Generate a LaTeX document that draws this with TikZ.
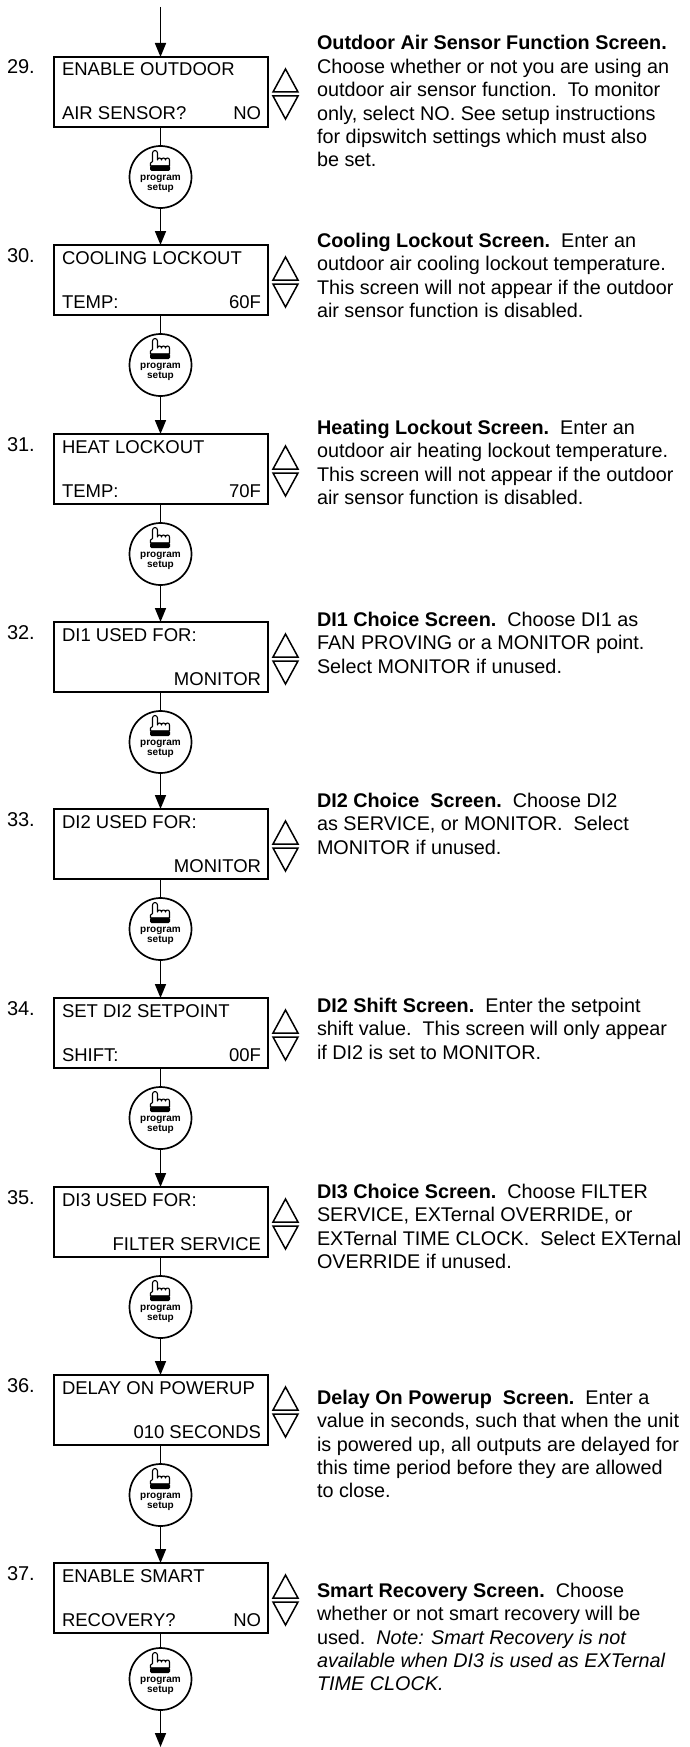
\documentclass[tikz,border=0pt]{standalone}
\usepackage{fontspec}
\setmainfont{Liberation Sans}
\usetikzlibrary{calc, arrows.meta, positioning}

\tikzset{
    % up / down keys beside each screen
    updown/.pic={
        \draw[line width=1.5pt, line join=miter] (0,-25) -- (-12.5,-2) -- (12.5,-2) -- cycle;
        \draw[line width=1.5pt, line join=miter] (0,25) -- (-12.5,2) -- (12.5,2) -- cycle;
    },
    % pointing hand on the program/setup key
    pointer/.pic={
        \draw[line width=1.1pt, fill=white, line join=round]
            (-10,-11) -- (-10,-14) -- (-8,-15.5) -- (-8,-24)
            arc[start angle=180, end angle=360, radius=2.5] -- (-3,-17)
            arc[start angle=180, end angle=360, radius=2]
            arc[start angle=180, end angle=360, radius=2]
            arc[start angle=180, end angle=360, radius=2] -- (9,-11) -- cycle;
        \fill[rounded corners=1.5pt] (-10.5,-11.5) rectangle (9.5,-6);
    },
}

\begin{document}
\begin{tikzpicture}[%
    x=1pt, y=-1pt,          % pixel grid, y going down
    >={Triangle[width=11pt, length=14pt]},
    line width=1.7pt,
    every node/.style={inner sep=0pt, outer sep=0pt},
    screen/.style={draw, rectangle, line width=2pt, minimum width=214pt, minimum height=70pt, anchor=north},
    button/.style={draw, circle, line width=1.7pt, minimum size=62pt},
    scrtext/.style={font=\fontsize{18.5}{22}\selectfont},
    stepnum/.style={font=\fontsize{20}{24}\selectfont, anchor=base west},
    btntext/.style={font=\bfseries\fontsize{10}{10.5}\selectfont, align=center},
    desc/.style={anchor=north west, align=left, font=\fontsize{19.8}{23.4}\selectfont},
    ]

\useasboundingbox (0,0) rectangle (689,1747);

%==================================================
% Coordinates (top middle of each screen)
%==================================================
\coordinate (C29) at (160.5,57);
\coordinate (C30) at (160.5,245);
\coordinate (C31) at (160.5,434);
\coordinate (C32) at (160.5,622);
\coordinate (C33) at (160.5,809);
\coordinate (C34) at (160.5,998);
\coordinate (C35) at (160.5,1187);
\coordinate (C36) at (160.5,1375);
\coordinate (C37) at (160.5,1563);

\coordinate (start)  at (160.5,7);
\coordinate (finish) at (160.5,1747);

%==================================================
% Screens
%==================================================
\node[screen] (s29) at (C29) {};
\node[screen] (s30) at (C30) {};
\node[screen] (s31) at (C31) {};
\node[screen] (s32) at (C32) {};
\node[screen] (s33) at (C33) {};
\node[screen] (s34) at (C34) {};
\node[screen] (s35) at (C35) {};
\node[screen] (s36) at (C36) {};
\node[screen] (s37) at (C37) {};

% step numbers
\node[stepnum] (n29) at ($(C29)+(-153.5,17)$) {29.};
\node[stepnum] (n30) at ($(C30)+(-153.5,17)$) {30.};
\node[stepnum] (n31) at ($(C31)+(-153.5,17)$) {31.};
\node[stepnum] (n32) at ($(C32)+(-153.5,17)$) {32.};
\node[stepnum] (n33) at ($(C33)+(-153.5,17)$) {33.};
\node[stepnum] (n34) at ($(C34)+(-153.5,17)$) {34.};
\node[stepnum] (n35) at ($(C35)+(-153.5,17)$) {35.};
\node[stepnum] (n36) at ($(C36)+(-153.5,17)$) {36.};
\node[stepnum] (n37) at ($(C37)+(-153.5,17)$) {37.};

% screen text
\node[scrtext, anchor=base west] (s29a) at ($(C29)+(-98.5,19)$) {ENABLE OUTDOOR};
\node[scrtext, anchor=base west] (s29b) at ($(C29)+(-98.5,63)$) {AIR SENSOR?};
\node[scrtext, anchor=base east] (s29c) at ($(C29)+(100.5,63)$) {NO};

\node[scrtext, anchor=base west] (s30a) at ($(C30)+(-98.5,19)$) {COOLING LOCKOUT};
\node[scrtext, anchor=base west] (s30b) at ($(C30)+(-98.5,63)$) {TEMP:};
\node[scrtext, anchor=base east] (s30c) at ($(C30)+(100.5,63)$) {60F};

\node[scrtext, anchor=base west] (s31a) at ($(C31)+(-98.5,19)$) {HEAT LOCKOUT};
\node[scrtext, anchor=base west] (s31b) at ($(C31)+(-98.5,63)$) {TEMP:};
\node[scrtext, anchor=base east] (s31c) at ($(C31)+(100.5,63)$) {70F};

\node[scrtext, anchor=base west] (s32a) at ($(C32)+(-98.5,19)$) {DI1 USED FOR:};
\node[scrtext, anchor=base east] (s32c) at ($(C32)+(100.5,63)$) {MONITOR};

\node[scrtext, anchor=base west] (s33a) at ($(C33)+(-98.5,19)$) {DI2 USED FOR:};
\node[scrtext, anchor=base east] (s33c) at ($(C33)+(100.5,63)$) {MONITOR};

\node[scrtext, anchor=base west] (s34a) at ($(C34)+(-98.5,19)$) {SET DI2 SETPOINT};
\node[scrtext, anchor=base west] (s34b) at ($(C34)+(-98.5,63)$) {SHIFT:};
\node[scrtext, anchor=base east] (s34c) at ($(C34)+(100.5,63)$) {00F};

\node[scrtext, anchor=base west] (s35a) at ($(C35)+(-98.5,19)$) {DI3 USED FOR:};
\node[scrtext, anchor=base east] (s35c) at ($(C35)+(100.5,63)$) {FILTER SERVICE};

\node[scrtext, anchor=base west] (s36a) at ($(C36)+(-98.5,19)$) {DELAY ON POWERUP};
\node[scrtext, anchor=base east] (s36c) at ($(C36)+(100.5,63)$) {010 SECONDS};

\node[scrtext, anchor=base west] (s37a) at ($(C37)+(-98.5,19)$) {ENABLE SMART};
\node[scrtext, anchor=base west] (s37b) at ($(C37)+(-98.5,63)$) {RECOVERY?};
\node[scrtext, anchor=base east] (s37c) at ($(C37)+(100.5,63)$) {NO};

% up/down keys
\pic at ($(C29)+(125,37)$) {updown};
\pic at ($(C30)+(125,37)$) {updown};
\pic at ($(C31)+(125,37)$) {updown};
\pic at ($(C32)+(125,37)$) {updown};
\pic at ($(C33)+(125,37)$) {updown};
\pic at ($(C34)+(125,37)$) {updown};
\pic at ($(C35)+(125,37)$) {updown};
\pic at ($(C36)+(125,37)$) {updown};
\pic at ($(C37)+(125,37)$) {updown};

%==================================================
% Program/setup keys
%==================================================
\node[button] (b29) at ($(s29.south)+(0,50)$) {};
\node[button] (b30) at ($(s30.south)+(0,50)$) {};
\node[button] (b31) at ($(s31.south)+(0,50)$) {};
\node[button] (b32) at ($(s32.south)+(0,50)$) {};
\node[button] (b33) at ($(s33.south)+(0,50)$) {};
\node[button] (b34) at ($(s34.south)+(0,50)$) {};
\node[button] (b35) at ($(s35.south)+(0,50)$) {};
\node[button] (b36) at ($(s36.south)+(0,50)$) {};
\node[button] (b37) at ($(s37.south)+(0,46)$) {};

\pic at (b29) {pointer}; \node[btntext] (k29) at ($(b29)+(0,7)$) {program\\setup};
\pic at (b30) {pointer}; \node[btntext] (k30) at ($(b30)+(0,7)$) {program\\setup};
\pic at (b31) {pointer}; \node[btntext] (k31) at ($(b31)+(0,7)$) {program\\setup};
\pic at (b32) {pointer}; \node[btntext] (k32) at ($(b32)+(0,7)$) {program\\setup};
\pic at (b33) {pointer}; \node[btntext] (k33) at ($(b33)+(0,7)$) {program\\setup};
\pic at (b34) {pointer}; \node[btntext] (k34) at ($(b34)+(0,7)$) {program\\setup};
\pic at (b35) {pointer}; \node[btntext] (k35) at ($(b35)+(0,7)$) {program\\setup};
\pic at (b36) {pointer}; \node[btntext] (k36) at ($(b36)+(0,7)$) {program\\setup};
\pic at (b37) {pointer}; \node[btntext] (k37) at ($(b37)+(0,7)$) {program\\setup};

%==================================================
% Descriptions
%==================================================
\node[desc] (d29) at (317,35.5) {\textbf{Outdoor Air Sensor Function Screen.}\\
    Choose whether or not you are using an\\
    outdoor air sensor function.\ \ To monitor\\
    only, select NO. See setup instructions\\
    for dipswitch settings which must also\\
    be set.};
\node[desc] (d30) at (317,233) {\textbf{Cooling Lockout Screen.}\ \ Enter an\\
    outdoor air cooling lockout temperature.\\
    This screen will not appear if the outdoor\\
    air sensor function is disabled.};
\node[desc] (d31) at (317,420) {\textbf{Heating Lockout Screen.}\ \ Enter an\\
    outdoor air heating lockout temperature.\\
    This screen will not appear if the outdoor\\
    air sensor function is disabled.};
\node[desc] (d32) at (317,612) {\textbf{DI1 Choice Screen.}\ \ Choose DI1 as\\
    FAN PROVING or a MONITOR point.\\
    Select MONITOR if unused.};
\node[desc] (d33) at (317,793) {\textbf{DI2 Choice\ \ Screen.}\ \ Choose DI2\\
    as SERVICE, or MONITOR.\ \ Select\\
    MONITOR if unused.};
\node[desc] (d34) at (317,998) {\textbf{DI2 Shift Screen.}\ \ Enter the setpoint\\
    shift value.\ \ This screen will only appear\\
    if DI2 is set to MONITOR.};
\node[desc] (d35) at (317,1184) {\textbf{DI3 Choice Screen.}\ \ Choose FILTER\\
    SERVICE, EXTernal OVERRIDE, or\\
    EXTernal TIME CLOCK.\ \ Select EXTernal\\
    OVERRIDE if unused.};
\node[desc] (d36) at (317,1390) {\textbf{Delay On Powerup\ \ Screen.}\ \ Enter a\\
    value in seconds, such that when the unit\\
    is powered up, all outputs are delayed for\\
    this time period before they are allowed\\
    to close.};
\node[desc] (d37) at (317,1583) {\textbf{Smart Recovery Screen.}\ \ Choose\\
    whether or not smart recovery will be\\
    used.\ \ \textit{Note: Smart Recovery is not}\\
    \textit{available when DI3 is used as EXTernal}\\
    \textit{TIME CLOCK.}};

%==================================================
% Arrows
%==================================================
\draw[->] (start) -- (s29);
\draw (s29) -- (b29);
\draw[->] (b29) -- (s30);
\draw (s30) -- (b30);
\draw[->] (b30) -- (s31);
\draw (s31) -- (b31);
\draw[->] (b31) -- (s32);
\draw (s32) -- (b32);
\draw[->] (b32) -- (s33);
\draw (s33) -- (b33);
\draw[->] (b33) -- (s34);
\draw (s34) -- (b34);
\draw[->] (b34) -- (s35);
\draw (s35) -- (b35);
\draw[->] (b35) -- (s36);
\draw (s36) -- (b36);
\draw[->] (b36) -- (s37);
\draw (s37) -- (b37);
\draw[->] (b37) -- (finish);

%==================================================
\end{tikzpicture}
\end{document}
